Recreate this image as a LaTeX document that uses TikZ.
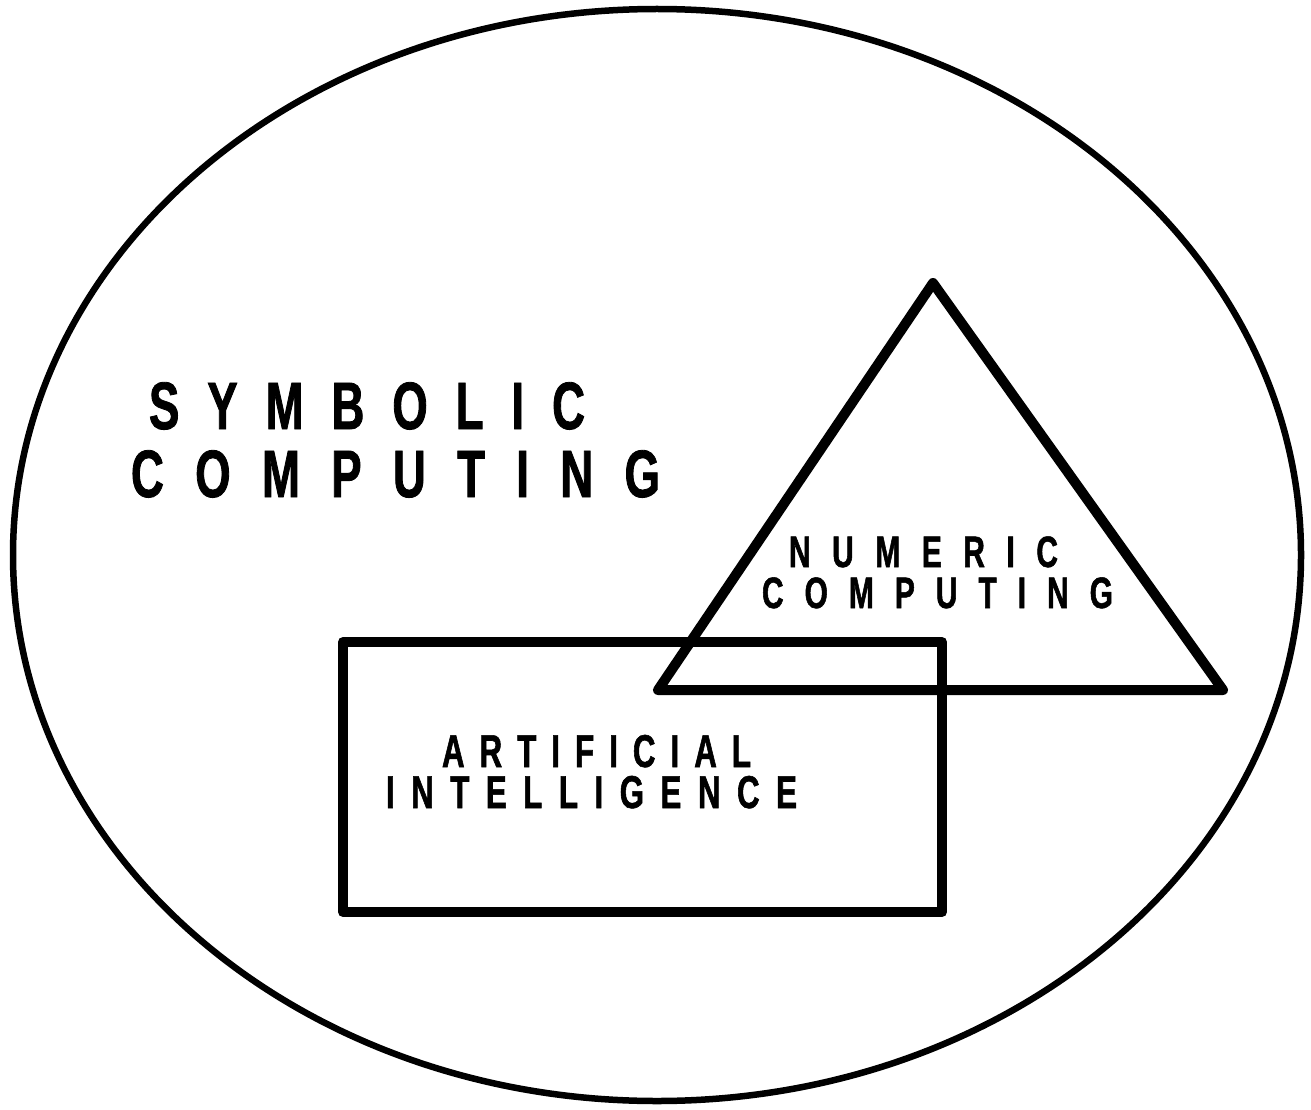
\documentclass[tikz,border=0pt]{standalone}
\usepackage{fontspec}
\newfontfamily\labfont{Liberation Sans}[FakeStretch=0.68,BoldFeatures={FakeBold=1.2}]
\newcommand{\spreadtext}[3]{{\fontsize{#1}{#1}\labfont\bfseries\makebox[#2][s]{#3}}}
\begin{document}
\begin{tikzpicture}[x=1pt,y=-1pt,
  outline/.style={line width=6.5pt,line join=round},
  thick shape/.style={line width=10pt,line join=round,line cap=round},
  lab/.style={inner sep=0pt,outer sep=0pt,anchor=base west}]
\useasboundingbox (0,0) rectangle (1311,1110);
\fill[white] (0,0) rectangle (1311,1110);
% outer ellipse
\draw[outline] (657,555) ellipse [x radius=644, y radius=546];
% rectangle
\draw[thick shape] (343,642) rectangle (942,912);
% triangle
\draw[thick shape] (933,283) -- (1223,690) -- (658,690) -- cycle;
% labels
\node[lab] (sym1) at (149,429) {\spreadtext{67pt}{436pt}{S\hfill Y\hfill M\hfill B\hfill O\hfill L\hfill I\hfill C}};
\node[lab] (sym2) at (131,497) {\spreadtext{67pt}{529pt}{C\hfill O\hfill M\hfill P\hfill U\hfill T\hfill I\hfill N\hfill G}};
\node[lab] (num1) at (789,567) {\spreadtext{44pt}{269pt}{N\hfill U\hfill M\hfill E\hfill R\hfill I\hfill C}};
\node[lab] (num2) at (762,608) {\spreadtext{44pt}{351pt}{C\hfill O\hfill M\hfill P\hfill U\hfill T\hfill I\hfill N\hfill G}};
\node[lab] (ai1) at (442,767) {\spreadtext{46pt}{309pt}{A\hfill R\hfill T\hfill I\hfill F\hfill I\hfill C\hfill I\hfill A\hfill L}};
\node[lab] (ai2) at (386,808) {\spreadtext{46pt}{411pt}{I\hfill N\hfill T\hfill E\hfill L\hfill L\hfill I\hfill G\hfill E\hfill N\hfill C\hfill E}};
\end{tikzpicture}
\end{document}
